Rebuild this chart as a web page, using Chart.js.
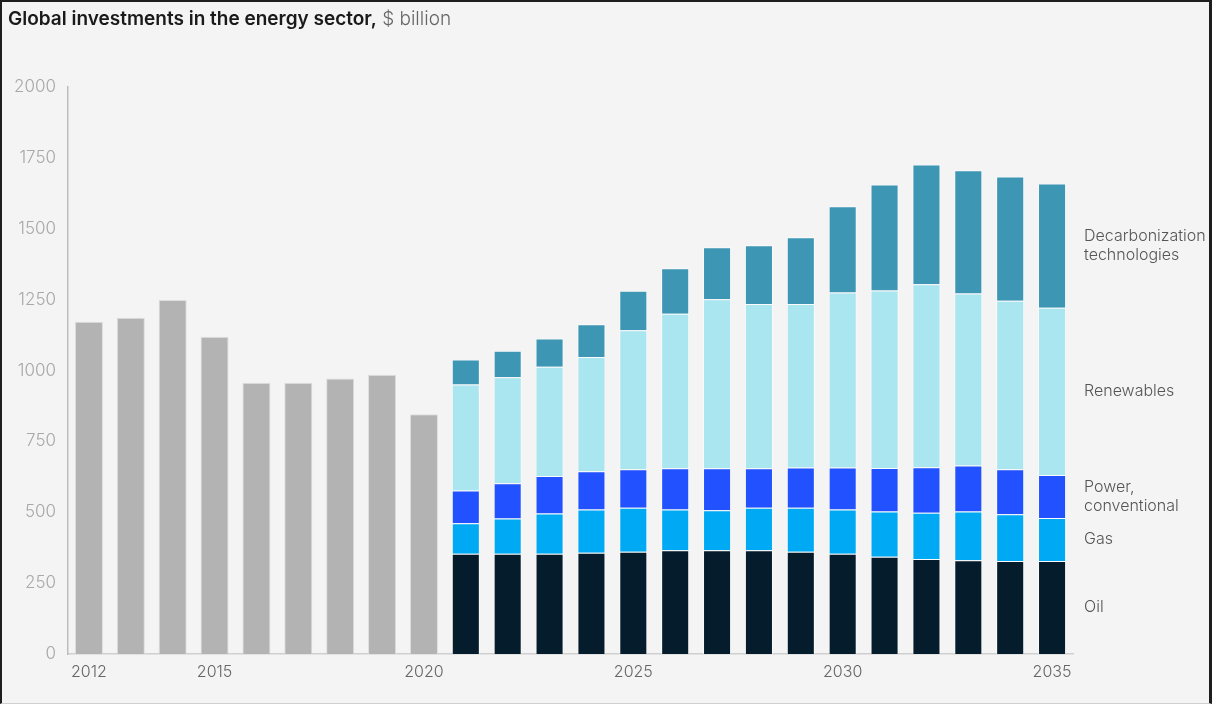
<!DOCTYPE html>
<html lang="en">
<head>
    <meta charset="UTF-8">
    <title>Global investments in the energy sector</title>
    <script src="https://cdn.jsdelivr.net/npm/chart.js@4/dist/chart.umd.min.js"></script>
    <style>
        html, body { margin: 0; padding: 0; background: #f4f4f4; }
        .frame {
            position: relative;
            width: 1212px;
            height: 704px;
            overflow: hidden;
            background: #f4f4f4;
        }
        .borde {
            position: absolute;
            left: 0; top: 0;
            width: 1212px; height: 704px;
            box-sizing: border-box;
            border-left: 2px solid #1e1e1e;
            border-top: 2px solid #1e1e1e;
            border-right: 3px solid #1e1e1e;
            border-bottom: 1px solid #d0d0d0;
            pointer-events: none;
        }
        .titulo {
            position: absolute;
            left: 8px; top: 7px;
            font-family: Inter, "Noto Sans", sans-serif;
            font-size: 19px;
            letter-spacing: 0px;
            color: #1a1a1a;
            white-space: nowrap;
        }
        .titulo b { font-weight: 600; }
        .titulo span { color: #666; font-weight: 300; }
        #grafico { position: absolute; left: 0; top: 0; }
    </style>
</head>
<body>
    <div class="frame">
        <canvas id="grafico" width="1212" height="704"></canvas>
        <div class="titulo"><b>Global investments in the energy sector,</b> <span>$ billion</span></div>
        <div class="borde"></div>
    </div>

    <script>
        // Años del eje x
        const anios = ['2012', '2013', '2014', '2015', '2016', '2017', '2018', '2019', '2020',
                       '2021', '2022', '2023', '2024', '2025', '2026', '2027', '2028', '2029',
                       '2030', '2031', '2032', '2033', '2034', '2035'];
        const aniosVisibles = ['2012', '2015', '2020', '2025', '2030', '2035'];

        // Totales históricos 2012-2020
        const historico = [1172, 1186, 1249, 1119, 957, 957, 972, 985, 846];

        // Proyección 2021-2035 por segmento
        const petroleo     = [354, 354, 354, 357, 361, 366, 366, 366, 361, 354, 343, 335, 331, 328, 328];
        const gas          = [107, 124, 142, 153, 155, 144, 141, 150, 155, 156, 160, 163, 172, 165, 152];
        const electricidad = [116, 124, 132, 135, 136, 145, 148, 139, 142, 148, 153, 161, 162, 159, 151];
        const renovables   = [374, 374, 385, 403, 490, 545, 596, 580, 577, 617, 626, 645, 607, 594, 590];
        const descarbon    = [ 88,  94, 100, 115, 139, 161, 184, 207, 235, 304, 374, 423, 434, 438, 439];

        // Rellenar con null los años que no tienen datos
        const nHist = historico.length;
        const soloHist = arr => arr.concat(new Array(anios.length - arr.length).fill(null));
        const soloProy = arr => new Array(nHist).fill(null).concat(arr);

        const series = [
            { label: 'Oil', data: petroleo, color: '#051c2c' },
            { label: 'Gas', data: gas, color: '#00a9f4' },
            { label: ['Power,', 'conventional'], data: electricidad, color: '#2251ff' },
            { label: 'Renewables', data: renovables, color: '#aae6f0' },
            { label: ['Decarbonization', 'technologies'], data: descarbon, color: '#3c96b4' }
        ];

        const fuente = 'Inter, "Noto Sans", sans-serif';

        // Etiquetas a la derecha, centradas en cada segmento de la última barra
        const etiquetasDerecha = {
            id: 'etiquetasDerecha',
            afterDatasetsDraw(chart) {
                const ctx = chart.ctx;
                const area = chart.chartArea;
                ctx.save();
                ctx.font = '300 16px ' + fuente;
                ctx.fillStyle = '#555';
                ctx.textAlign = 'left';
                ctx.textBaseline = 'middle';
                chart.data.datasets.forEach((ds, i) => {
                    if (i === 0) return;
                    const meta = chart.getDatasetMeta(i);
                    const barra = meta.data[meta.data.length - 1];
                    const yMedio = (barra.y + barra.base) / 2;
                    const lineas = Array.isArray(ds.label) ? ds.label : [ds.label];
                    const alto = 19;
                    lineas.forEach((t, k) => {
                        ctx.fillText(t, area.right + 11, yMedio + (k - (lineas.length - 1) / 2) * alto);
                    });
                });
                ctx.restore();
            }
        };

        function crearGrafico() {
            const ctx = document.getElementById('grafico').getContext('2d');

            const datasets = [{
                label: 'Historic',
                data: soloHist(historico),
                backgroundColor: '#b3b3b3',
                borderColor: 'rgba(220,220,220,0.9)',
                borderWidth: 1
            }];
            series.forEach(s => {
                datasets.push({
                    label: s.label,
                    data: soloProy(s.data),
                    backgroundColor: s.color,
                    borderColor: 'rgba(255,255,255,0.6)',
                    borderWidth: 1
                });
            });

            new Chart(ctx, {
                type: 'bar',
                data: { labels: anios, datasets: datasets },
                plugins: [etiquetasDerecha],
                options: {
                    responsive: false,
                    animation: false,
                    devicePixelRatio: 1,
                    categoryPercentage: 1,
                    barPercentage: 0.67,
                    layout: { padding: { left: 0, right: 139, top: 87, bottom: 0 } },
                    plugins: {
                        legend: { display: false },
                        tooltip: { enabled: false }
                    },
                    scales: {
                        x: {
                            stacked: true,
                            grid: { display: false, drawTicks: false },
                            border: { color: '#cfcfcf', width: 1.5 },
                            afterFit: s => { s.height = 50; },
                            ticks: {
                                autoSkip: false,
                                maxRotation: 0,
                                padding: 9,
                                color: '#666',
                                font: { family: fuente, size: 16, weight: 300 },
                                callback: function (v) {
                                    const l = this.getLabelForValue(v);
                                    return aniosVisibles.includes(l) ? l : '';
                                }
                            }
                        },
                        y: {
                            stacked: true,
                            min: 0,
                            max: 2000,
                            grid: { display: false, drawTicks: false },
                            border: { color: '#bdbdbd', width: 1.5 },
                            afterFit: s => { s.width = 68; },
                            ticks: {
                                stepSize: 250,
                                padding: 12,
                                color: '#a8a8a8',
                                font: { family: fuente, size: 17, weight: 300 },
                                callback: v => String(v)
                            }
                        }
                    }
                }
            });
        }

        window.onload = crearGrafico;
    </script>
</body>
</html>
